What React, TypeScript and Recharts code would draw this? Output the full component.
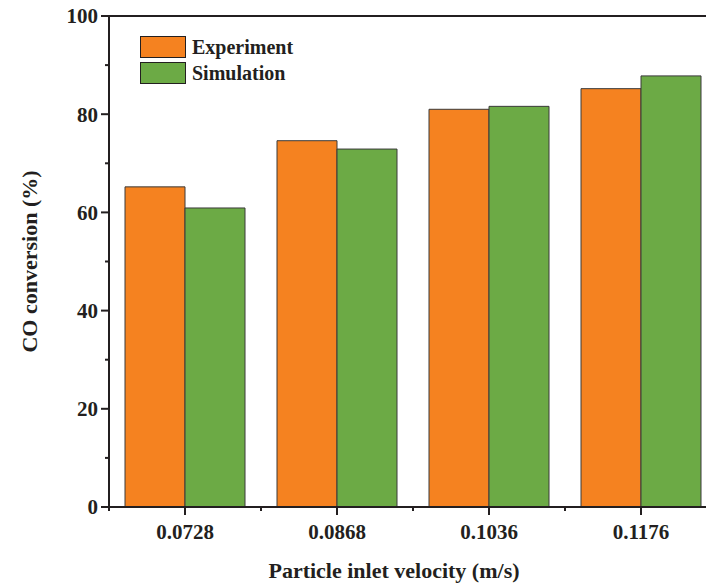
import { Bar, BarChart, Legend, ReferenceLine, XAxis, YAxis } from 'recharts';

const velocities = ['0.0728', '0.0868', '0.1036', '0.1176'];
const experiment = [65.2, 74.6, 81.0, 85.2];
const simulation = [60.9, 72.9, 81.6, 87.8];
const yTicks = [0, 10, 20, 30, 40, 50, 60, 70, 80, 90, 100];

const data = velocities.map((v, i) => ({
  v,
  experiment: experiment[i],
  simulation: simulation[i],
}));

const FONT = '"Liberation Serif", "Times New Roman", serif';
const INK = '#231f20';
const ORANGE = '#f58220';
const GREEN = '#6caa45';

const CHART_W = 720;
const CHART_H = 584;
const MARGIN = { top: 16, right: 3, left: 0, bottom: 0 };
const Y_W = 109;
const HALF_BAND = (CHART_W - MARGIN.right - Y_W) / velocities.length / 2;

function YTick({ x, y, payload }: any) {
  const major = payload.value % 20 === 0;
  return (
    <g>
      <line x1={x - (major ? 8 : 4)} x2={x} y1={y} y2={y} stroke={INK} strokeWidth={2} />
      {major && (
        <text
          x={x - 11}
          y={y}
          dy="0.35em"
          textAnchor="end"
          fontFamily={FONT}
          fontWeight="bold"
          fontSize={21}
          fill={INK}
        >
          {payload.value}
        </text>
      )}
    </g>
  );
}

function XTick({ x, y, payload }: any) {
  return (
    <g>
      <line x1={x} x2={x} y1={y} y2={y + 8} stroke={INK} strokeWidth={2} />
      <line x1={x - HALF_BAND} x2={x - HALF_BAND} y1={y} y2={y + 4} stroke={INK} strokeWidth={2} />
      <text
        x={x}
        y={y + 32}
        textAnchor="middle"
        fontFamily={FONT}
        fontWeight="bold"
        fontSize={21}
        fill={INK}
      >
        {payload.value}
      </text>
    </g>
  );
}

function XTitle({ viewBox }: any) {
  const { x, y, width } = viewBox;
  return (
    <text
      x={x + width / 2 - 19}
      y={y + 71}
      textAnchor="middle"
      fontFamily={FONT}
      fontWeight="bold"
      fontSize={22}
      fill={INK}
    >
      Particle inlet velocity (m/s)
    </text>
  );
}

function YTitle({ viewBox }: any) {
  const { x, y, height } = viewBox;
  const cx = x + 29;
  const cy = y + height / 2;
  return (
    <text
      x={cx}
      y={cy}
      transform={`rotate(-90 ${cx} ${cy})`}
      textAnchor="middle"
      dominantBaseline="central"
      fontFamily={FONT}
      fontWeight="bold"
      fontSize={22}
      fill={INK}
    >
      CO conversion (%)
    </text>
  );
}

function LegendBox({ payload }: any) {
  return (
    <div style={{ display: 'flex', flexDirection: 'column', gap: 4 }}>
      {(payload || []).map((p: any) => (
        <div key={p.value} style={{ display: 'flex', alignItems: 'center', height: 22 }}>
          <span
            style={{
              width: 44,
              height: 20,
              background: p.color,
              border: `1px solid ${INK}`,
              display: 'inline-block',
            }}
          />
          <span
            style={{
              marginLeft: 6,
              fontFamily: FONT,
              fontWeight: 'bold',
              fontSize: 20,
              color: INK,
            }}
          >
            {p.value}
          </span>
        </div>
      ))}
    </div>
  );
}

export default function App() {
  return (
    <div
      style={{
        position: 'absolute',
        left: 0,
        top: 0,
        width: 706,
        height: 584,
        overflow: 'hidden',
        background: '#fff',
      }}
    >
      <BarChart
        width={CHART_W}
        height={CHART_H}
        data={data}
        margin={MARGIN}
        barCategoryGap={16}
        barGap={0}
      >
        <XAxis
          dataKey="v"
          height={77}
          interval={0}
          tickSize={0}
          tickMargin={0}
          tickLine={false}
          axisLine={{ stroke: INK, strokeWidth: 2 }}
          tick={<XTick />}
          label={<XTitle />}
        />
        <YAxis
          width={Y_W}
          domain={[0, 100]}
          ticks={yTicks}
          interval={0}
          tickSize={0}
          tickMargin={0}
          tickLine={false}
          axisLine={{ stroke: INK, strokeWidth: 2 }}
          tick={<YTick />}
          label={<YTitle />}
        />
        <ReferenceLine y={100} stroke={INK} strokeWidth={2} ifOverflow="visible" />
        <Legend
          layout="horizontal"
          verticalAlign="middle"
          align="center"
          content={<LegendBox />}
          wrapperStyle={{ left: 140, top: 36, width: 'auto', height: 'auto' }}
        />
        <Bar
          dataKey="experiment"
          name="Experiment"
          fill={ORANGE}
          stroke="#3a3a3a"
          strokeWidth={1}
          isAnimationActive={false}
        />
        <Bar
          dataKey="simulation"
          name="Simulation"
          fill={GREEN}
          stroke="#3a3a3a"
          strokeWidth={1}
          isAnimationActive={false}
        />
      </BarChart>
    </div>
  );
}
